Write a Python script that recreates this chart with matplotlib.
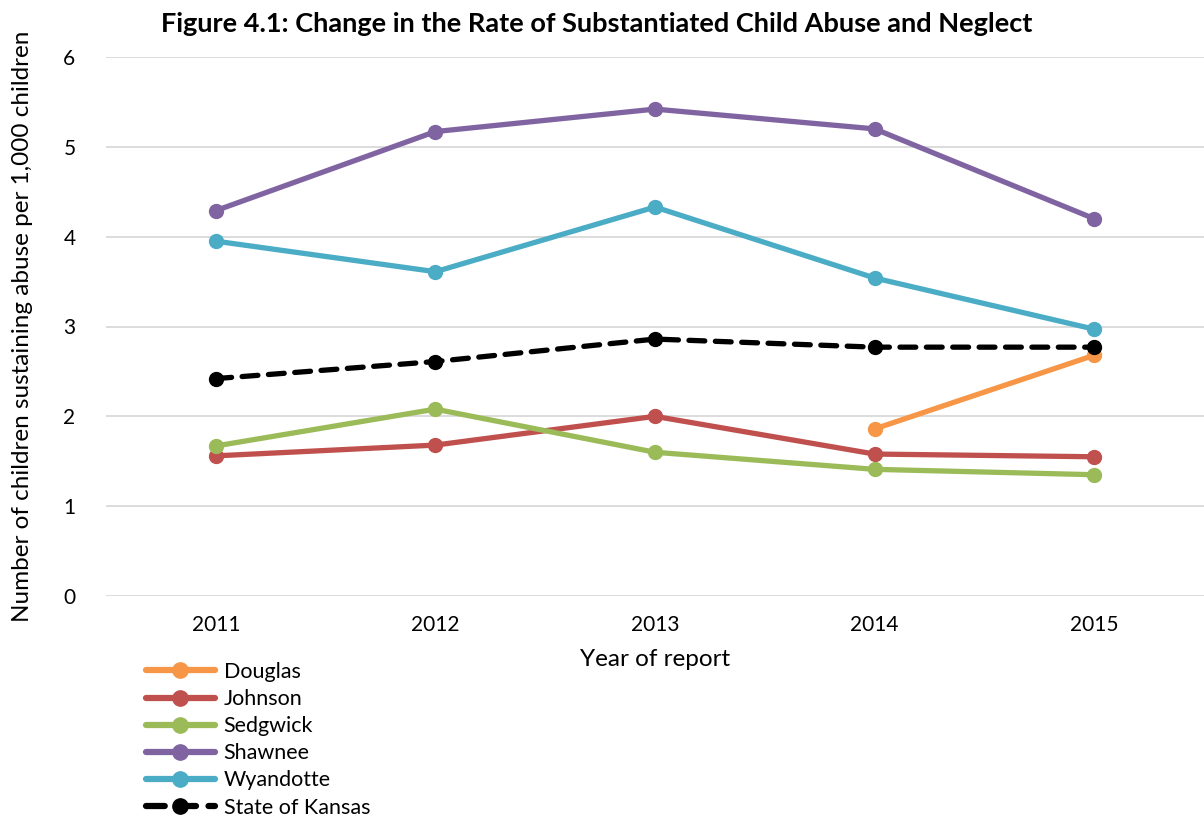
import matplotlib
matplotlib.use("Agg")
import matplotlib.pyplot as plt
import numpy as np

plt.rcParams['font.family'] = ['Lato', 'DejaVu Sans']

years = ["2011", "2012", "2013", "2014", "2015"]
douglas = [np.nan, np.nan, np.nan, 1.86, 2.68]
johnson = [1.56, 1.68, 2.00, 1.58, 1.55]
sedgwick = [1.67, 2.08, 1.60, 1.41, 1.35]
shawnee = [4.29, 5.17, 5.42, 5.20, 4.20]
wyandotte = [3.95, 3.61, 4.33, 3.54, 2.97]
kansas = [2.42, 2.61, 2.86, 2.77, 2.77]

fig = plt.figure(figsize=(12.04, 8.19), dpi=100)
ax = fig.add_axes([106/1204, 1-596/819, 1-106/1204, (596-57)/819])
x = np.arange(len(years))

series = [
    ("Douglas", douglas, "#F79646"),
    ("Johnson", johnson, "#C0504D"),
    ("Sedgwick", sedgwick, "#9BBB59"),
    ("Shawnee", shawnee, "#8064A2"),
    ("Wyandotte", wyandotte, "#4BACC6"),
]
for name, vals, col in series:
    ax.plot(x, vals, color=col, lw=3.8, marker="o", ms=10, label=name,
            solid_capstyle="round")
ax.plot(x, kansas, color="black", lw=3.8, ls=(0, (3, 2)), marker="o", ms=10,
        label="State of Kansas", dash_capstyle="round")

ax.set_xlim(-0.5, 4.5)
ax.set_ylim(0, 6)
ax.set_yticks(range(0, 7))
ax.set_xticks(x)
ax.set_xticklabels(years)
ax.tick_params(axis="both", length=0, labelsize=15, colors="black")
ax.tick_params(axis="x", pad=14)
ax.tick_params(axis="y", pad=22)
ax.grid(axis="y", color="#D9D9D9", lw=1.3)
ax.set_axisbelow(True)
for s in ax.spines.values():
    s.set_visible(False)

ax.set_xlabel("Year of report", fontsize=17.5, labelpad=10)
ax.set_ylabel("Number of children sustaining abuse per 1,000 children", fontsize=17.5, labelpad=22)
fig.text(0.496, 1-24/819, "Figure 4.1: Change in the Rate of Substantiated Child Abuse and Neglect",
         ha="center", va="center", fontsize=19.5, fontweight="bold")

leg = ax.legend(loc="upper left", bbox_to_anchor=(146/1204, 1-662/819), bbox_transform=fig.transFigure,
                frameon=False, fontsize=15.5, handlelength=3.2, labelspacing=0.33,
                handletextpad=0.4, borderaxespad=0, borderpad=0)
for h in leg.get_lines():
    h.set_linewidth(4.5)
    h.set_markersize(11)

fig.savefig("out.png", dpi=100)
